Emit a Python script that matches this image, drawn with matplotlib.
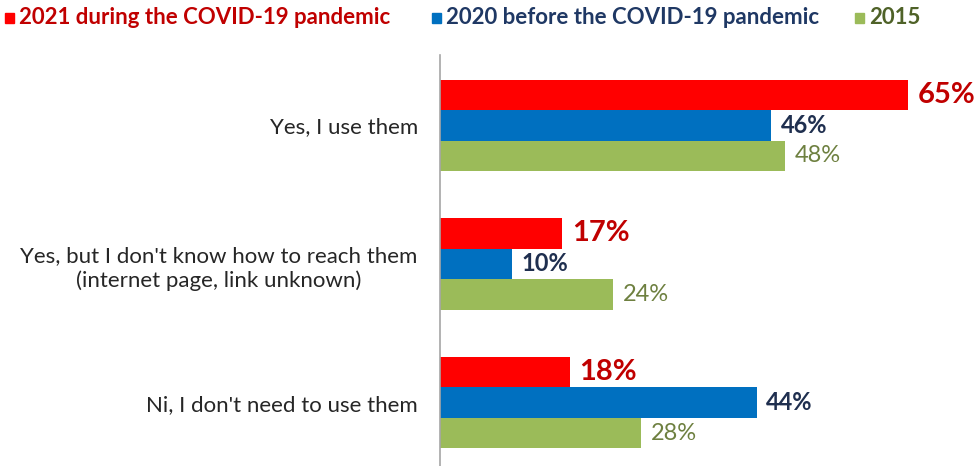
import numpy as np
import matplotlib.pyplot as plt
from matplotlib.patches import Rectangle

plt.rcParams['font.family'] = ['Lato', 'DejaVu Sans']

categories = ['Yes, I use them',
              "Yes, but I don't know how to reach them\n(internet page, link unknown)",
              "Ni, I don't need to use them"]
series_names = ['2021 during the COVID-19 pandemic',
                '2020 before the COVID-19 pandemic',
                '2015']
values_2021 = [65, 17, 18]
values_2020 = [46, 10, 44]
values_2015 = [48, 24, 28]

bar_colors = ['#FF0000', '#0070C0', '#9BBB59']
text_colors = ['#C00000', '#1F2F4F', '#6E8040']
label_sizes = [21, 17, 17]
label_weights = ['bold', 'bold', 'normal']

fig = plt.figure(figsize=(9.79, 4.66), dpi=100)
ax = fig.add_axes([440 / 979, 0, 539 / 979, 411 / 466])

y = np.arange(len(categories))
h = 0.22
for i, vals in enumerate([values_2021, values_2020, values_2015]):
    bars = ax.barh(y + (i - 1) * h, vals, height=h, color=bar_colors[i])
    for b, v in zip(bars, vals):
        ax.annotate(f'{v}%', (b.get_width(), b.get_y() + b.get_height() / 2),
                    xytext=(7, 0), textcoords='offset points', va='center', ha='left',
                    fontsize=label_sizes[i], fontweight=label_weights[i],
                    color=text_colors[i])

ax.set_xlim(0, 74.9)
ax.set_ylim(2.457, -0.507)
ax.set_yticks(y)
ax.set_yticklabels(categories, fontsize=16, color='#262626', multialignment='center',
                   linespacing=1.3)
ax.tick_params(axis='y', length=0, pad=16)
ax.set_xticks([])
for s in ['top', 'right', 'bottom']:
    ax.spines[s].set_visible(False)
ax.spines['left'].set_color('#A6A6A6')
ax.spines['left'].set_linewidth(1.2)

# legend row along the top
legend_x = [5, 432, 855]
legend_text_colors = ['#C00000', '#1F3864', '#4F6228']
for lx, name, bc, tc in zip(legend_x, series_names, bar_colors, legend_text_colors):
    fig.patches.append(Rectangle((lx / 979, 1 - 23 / 466), 9 / 979, 10 / 466,
                                 transform=fig.transFigure, color=bc))
    fig.text((lx + 14) / 979, 1 - 18 / 466, name, fontsize=16, fontweight='bold',
             color=tc, va='center', ha='left')

fig.savefig('out.png', dpi=100)
